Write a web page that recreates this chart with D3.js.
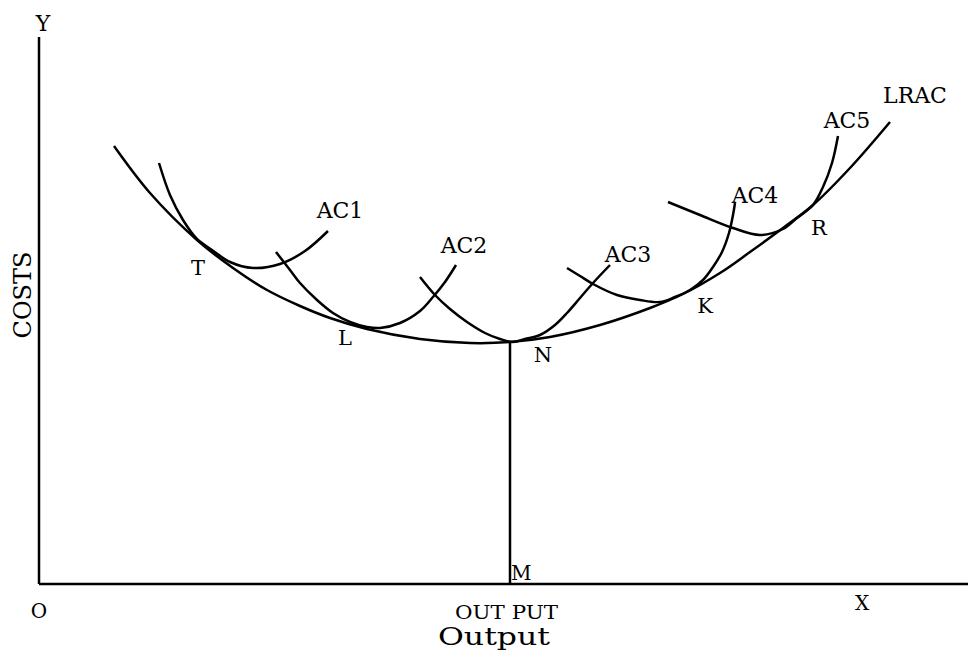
<!DOCTYPE html>
<html>
<head>
<meta charset="utf-8">
<script src="https://cdn.jsdelivr.net/npm/d3@7"></script>
<style>
  html, body { margin: 0; padding: 0; background: #fff; }
  svg { display: block; }
  text { font-family: "DejaVu Serif", serif; fill: #000; }
</style>
</head>
<body>
<svg id="chart" width="969" height="652"></svg>
<script>
// ---- Data (output units along X, cost units along Y) ----
const lracOutput = [75, 111, 158, 194, 228, 261, 291, 328, 381, 431, 471, 511, 561, 611, 644, 681, 711, 744, 774, 811, 851];
const lracCost   = [438, 391, 344, 316, 294, 278, 266, 255, 245, 241, 242, 247, 259, 276, 290, 311, 332, 356, 379, 416, 462];

const ac1Output = [120, 131, 144, 158, 173, 191, 214, 241, 266, 289];
const ac1Cost   = [421, 389, 364, 345, 334, 322, 316, 320, 333, 353];

const ac2Output = [237, 251, 261, 278, 294, 311, 328, 341, 361, 381, 394, 406, 417];
const ac2Cost   = [332, 314, 301, 284, 271, 262, 257, 256, 261, 273, 287, 302, 319];

const ac3Output = [381, 396, 411, 428, 446, 461, 474, 486, 501, 516, 528, 541, 554, 571];
const ac3Cost   = [307, 289, 275, 262, 251, 245, 242, 245, 249, 259, 271, 286, 301, 319];

const ac4Output = [528, 541, 554, 578, 601, 621, 636, 651, 664, 674, 683, 690, 694, 696];
const ac4Cost   = [316, 308, 300, 289, 284, 282, 287, 294, 304, 317, 332, 351, 369, 381];

const ac5Output = [629, 661, 694, 721, 744, 758, 774, 784, 793, 799];
const ac5Cost   = [382, 369, 356, 349, 355, 366, 379, 397, 421, 448];

// Vertical line from N down to M
const nOutput = 471;
const nCost = 242;

// Curve labels
const curveLabels  = ["AC1", "AC2", "AC3", "AC4", "AC5", "LRAC"];
const curveLabelX  = [301, 425, 589, 716, 808, 876];
const curveLabelY  = [366, 331, 322, 381, 456, 481];

// Point labels
const pointLabels = ["T", "L", "N", "K", "R"];
const pointLabelX = [159, 306, 504, 666, 780];
const pointLabelY = [309, 239, 222, 271, 349];

// ---- Layout ----
const svg = d3.select("#chart");
const x = d3.scaleLinear().domain([0, 929]).range([39, 968]);
const y = d3.scaleLinear().domain([0, 547]).range([584, 37]);

const line = d3.line()
  .x(d => x(d[0]))
  .y(d => y(d[1]))
  .curve(d3.curveCatmullRom.alpha(0.5));

const zip = (a, b) => a.map((v, i) => [v, b[i]]);

// Axes
svg.append("line")
  .attr("x1", x(0)).attr("y1", y(0))
  .attr("x2", x(0)).attr("y2", y(547))
  .attr("stroke", "#000").attr("stroke-width", 2.5);
svg.append("line")
  .attr("x1", x(0)).attr("y1", y(0))
  .attr("x2", x(929)).attr("y2", y(0))
  .attr("stroke", "#000").attr("stroke-width", 2.5);

// Curves
const curves = [
  zip(lracOutput, lracCost),
  zip(ac1Output, ac1Cost),
  zip(ac2Output, ac2Cost),
  zip(ac3Output, ac3Cost),
  zip(ac4Output, ac4Cost),
  zip(ac5Output, ac5Cost)
];
svg.selectAll("path.curve")
  .data(curves)
  .enter().append("path")
  .attr("class", "curve")
  .attr("d", line)
  .attr("fill", "none")
  .attr("stroke", "#000")
  .attr("stroke-width", 2.5)
  .attr("stroke-linecap", "butt");

// N-M vertical line
svg.append("line")
  .attr("x1", x(nOutput)).attr("y1", y(nCost))
  .attr("x2", x(nOutput)).attr("y2", y(0))
  .attr("stroke", "#000").attr("stroke-width", 2.5);

// Curve labels
svg.selectAll("text.curve-label")
  .data(curveLabels)
  .enter().append("text")
  .attr("class", "curve-label")
  .attr("x", (d, i) => x(curveLabelX[i]))
  .attr("y", (d, i) => y(curveLabelY[i]))
  .attr("text-anchor", "middle")
  .attr("font-size", 22)
  .text(d => d);

// Point labels
svg.selectAll("text.point-label")
  .data(pointLabels)
  .enter().append("text")
  .attr("class", "point-label")
  .attr("x", (d, i) => x(pointLabelX[i]))
  .attr("y", (d, i) => y(pointLabelY[i]))
  .attr("text-anchor", "middle")
  .attr("font-size", 21)
  .text(d => d);

// Axis labels
svg.append("text").attr("x", x(nOutput) + 1).attr("y", 580)
  .attr("font-size", 20)
  .attr("font-family", "DejaVu Serif Condensed").text("M");
svg.append("text").attr("x", 43).attr("y", 31).attr("text-anchor", "middle")
  .attr("font-size", 22).text("Y");
svg.append("text").attr("x", 39).attr("y", 618).attr("text-anchor", "middle")
  .attr("font-size", 20).text("O");
svg.append("text").attr("x", 862).attr("y", 610).attr("text-anchor", "middle")
  .attr("font-size", 20).text("X");
svg.append("text").attr("x", 455).attr("y", 619)
  .attr("font-size", 19)
  .attr("textLength", 103).attr("lengthAdjust", "spacingAndGlyphs")
  .text("OUT PUT");
svg.append("text").attr("x", 438).attr("y", 645)
  .attr("font-size", 25)
  .attr("textLength", 112).attr("lengthAdjust", "spacingAndGlyphs")
  .text("Output");
svg.append("text")
  .attr("transform", "translate(31,295) rotate(-90)")
  .attr("text-anchor", "middle")
  .attr("font-size", 24).text("COSTS");
</script>
</body>
</html>
